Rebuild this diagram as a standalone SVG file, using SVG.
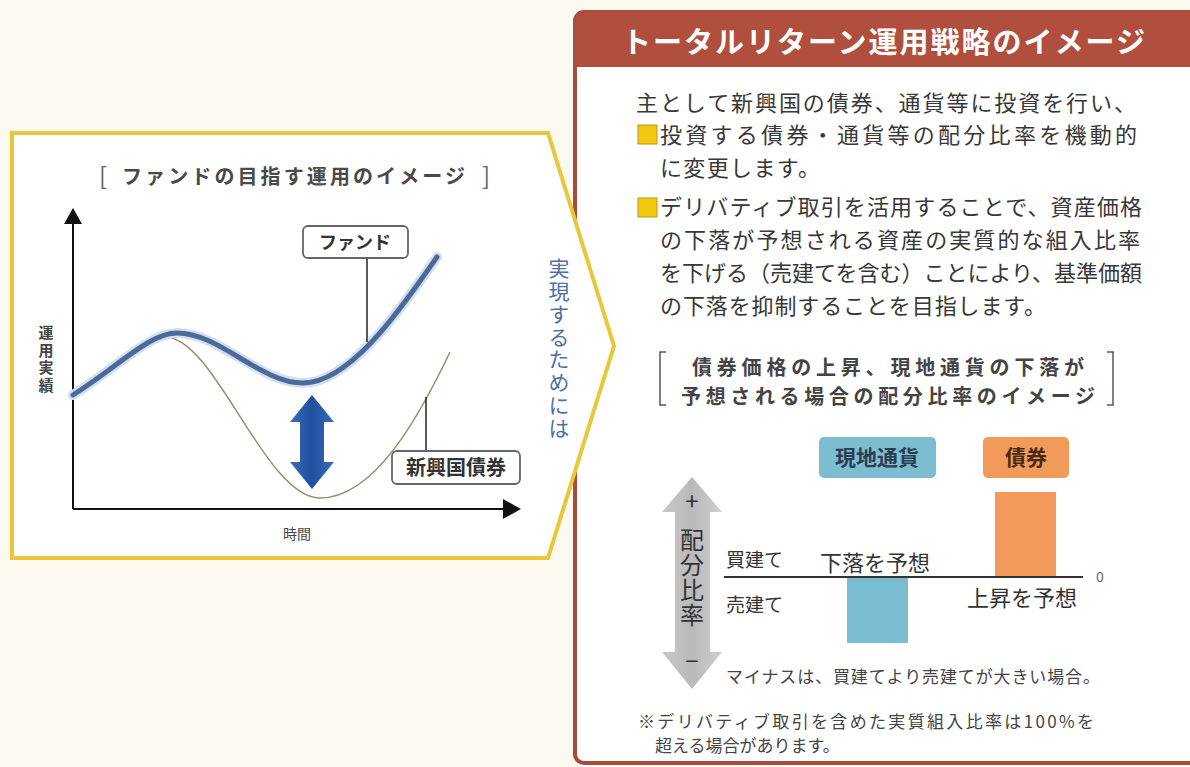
<svg xmlns="http://www.w3.org/2000/svg" width="1190" height="767" viewBox="0 0 1190 767">
<style>
text{font-family:"Noto Sans CJK JP","Noto Sans",sans-serif;}
.body{font-size:22px;fill:#383838;}
.vt{writing-mode:vertical-rl;}
.bar-t{font-size:22px;fill:#333;}
</style>
<defs>
<linearGradient id="gray" x1="0" y1="0" x2="1" y2="0">
<stop offset="0" stop-color="#c9c9c9"/><stop offset="0.5" stop-color="#b9b9b9"/><stop offset="1" stop-color="#cfcfcf"/>
</linearGradient>
<linearGradient id="blue" x1="0" y1="0" x2="1" y2="0">
<stop offset="0" stop-color="#3a6cb8"/><stop offset="0.5" stop-color="#1f4f9e"/><stop offset="1" stop-color="#3a6cb8"/>
</linearGradient>
</defs>
<rect width="1190" height="767" fill="#fcf9f1"/>

<g id="right-panel">
<rect x="575" y="12" width="640" height="751" rx="9" fill="#ffffff" stroke="#a84b3b" stroke-width="4"/>
<path d="M575,67 V21 Q575,12 584,12 H1190 V67 Z" fill="#b04f3d"/>
<text x="622" y="53" font-size="29" font-weight="bold" fill="#ffffff" textLength="523" lengthAdjust="spacing">トータルリターン運用戦略のイメージ</text>
</g>

<g id="left-panel">
<polygon points="12,133 548,133 614,346 548,558 12,558" fill="#ffffff" stroke="#e8c83a" stroke-width="4" stroke-linejoin="miter"/>
<text x="99" y="185" font-size="24" fill="#666" font-family="Liberation Sans">[</text>
<text x="122" y="184" font-size="20" font-weight="bold" fill="#4a4a4a" textLength="343" lengthAdjust="spacing">ファンドの目指す運用のイメージ</text>
<text x="482" y="185" font-size="24" fill="#666" font-family="Liberation Sans">]</text>
</g>

<g id="axes">
<line x1="73" y1="220" x2="73" y2="509" stroke="#111" stroke-width="2"/>
<polygon points="73,208 64,224 82,224" fill="#111"/>
<line x1="73" y1="509" x2="506" y2="509" stroke="#111" stroke-width="2"/>
<polygon points="521,509 503,499 503,519" fill="#111"/>
<text class="vt" x="46" y="325" font-size="15" font-weight="bold" fill="#444" letter-spacing="2.5">運用実績</text>
<text x="297" y="539" font-size="14" fill="#444" text-anchor="middle">時間</text>
</g>

<g id="curves">
<path d="M73,397 C115,370 140,337 165,337 C215,337 265,498 320,498 C375,498 420,415 450,352" fill="none" stroke="#9a8a70" stroke-width="1.5"/>
<path d="M73,395 C120,365 150,333 177,333 C220,333 260,383 303,383 C350,383 400,310 437,257" fill="none" stroke="#d3deef" stroke-width="10" stroke-linecap="round"/>
<path d="M73,395 C120,365 150,333 177,333 C220,333 260,383 303,383 C350,383 400,310 437,257" fill="none" stroke="#4b6a99" stroke-width="5" stroke-linecap="round"/>
<polygon points="312,395 334,422 324,422 324,462 334,462 312,489 290,462 300,462 300,422 290,422" fill="url(#blue)"/>
</g>

<g id="connectors">
<line x1="367" y1="258" x2="367" y2="342" stroke="#222" stroke-width="1.5"/>
<line x1="426" y1="397" x2="426" y2="450" stroke="#222" stroke-width="1.5"/>
</g>

<g id="fund-label">
<rect x="303" y="226" width="105" height="32" rx="5" fill="#ffffff" stroke="#666" stroke-width="1.8"/>
<text x="355" y="249" font-size="18" font-weight="bold" fill="#333" text-anchor="middle">ファンド</text>
</g>

<g id="bond-label">
<rect x="392" y="451" width="128" height="33" rx="5" fill="#ffffff" stroke="#666" stroke-width="1.8"/>
<text x="456" y="475" font-size="20" font-weight="bold" fill="#333" text-anchor="middle">新興国債券</text>
</g>

<g id="realize-text">
<text class="vt" x="559" y="258" font-size="21" fill="#4f6fa5" letter-spacing="1.75">実現するためには</text>
</g>

<g id="body-text">
<text class="body" x="636" y="111" textLength="500" lengthAdjust="spacing">主として新興国の債券、通貨等に投資を行い、</text>
<rect x="638" y="125" width="19" height="19" fill="#f2c811" stroke="#b89a1a" stroke-width="1"/>
<text class="body" x="660" y="143" textLength="477" lengthAdjust="spacing">投資する債券・通貨等の配分比率を機動的</text>
<text class="body" x="660" y="176" textLength="160" lengthAdjust="spacing">に変更します。</text>
<rect x="638" y="198" width="19" height="19" fill="#f2c811" stroke="#b89a1a" stroke-width="1"/>
<text class="body" x="660" y="215" textLength="482" lengthAdjust="spacing">デリバティブ取引を活用することで、資産価格</text>
<text class="body" x="660" y="248" textLength="480" lengthAdjust="spacing">の下落が予想される資産の実質的な組入比率</text>
<text class="body" x="660" y="281" textLength="482" lengthAdjust="spacing">を下げる（売建てを含む）ことにより、基準価額</text>
<text class="body" x="660" y="314" textLength="386" lengthAdjust="spacing">の下落を抑制することを目指します。</text>
</g>

<g id="chart-title">
<polyline points="666,352 660,352 660,405 666,405" fill="none" stroke="#555" stroke-width="1.5"/>
<polyline points="1107,352 1113,352 1113,405 1107,405" fill="none" stroke="#555" stroke-width="1.5"/>
<text x="888" y="375" font-size="20" font-weight="bold" fill="#444" text-anchor="middle" textLength="392" lengthAdjust="spacing">債券価格の上昇、現地通貨の下落が</text>
<text x="888" y="404" font-size="20" font-weight="bold" fill="#444" text-anchor="middle" textLength="414" lengthAdjust="spacing">予想される場合の配分比率のイメージ</text>
</g>

<g id="currency-label">
<rect x="819" y="437" width="117" height="41" rx="5" fill="#7dbdd0"/>
<text x="877" y="465" font-size="21" font-weight="bold" fill="#2d3e52" text-anchor="middle">現地通貨</text>
</g>
<g id="bond-legend">
<rect x="983" y="437" width="86" height="41" rx="5" fill="#f29a5a"/>
<text x="1026" y="465" font-size="21" font-weight="bold" fill="#4a2a16" text-anchor="middle">債券</text>
</g>

<g id="ratio-arrow">
<polygon points="692,477 722,512 710,512 710,652 722,652 692,689 662,652 675,652 675,512 662,512" fill="url(#gray)"/>
<text x="692" y="510" font-size="24" fill="#333" text-anchor="middle" font-family="Liberation Sans">+</text>
<text class="vt" x="692" y="528" font-size="24" fill="#333" letter-spacing="1">配分比率</text>
<text x="692" y="670" font-size="24" fill="#333" text-anchor="middle" font-family="Liberation Sans">−</text>
</g>

<g id="bars">
<rect x="995" y="492" width="61" height="85" fill="#f29a5a"/>
<rect x="847" y="578" width="61" height="65" fill="#7abcd0"/>
<line x1="724" y1="577" x2="1083" y2="577" stroke="#333" stroke-width="2"/>
<text x="1096" y="582" font-size="14" fill="#666" font-family="Liberation Sans">0</text>
<text x="726" y="567" font-size="19" fill="#333">買建て</text>
<text x="726" y="612" font-size="19" fill="#333">売建て</text>
<text class="bar-t" x="820" y="571">下落を予想</text>
<text class="bar-t" x="967" y="606">上昇を予想</text>
</g>

<g id="notes">
<text x="726" y="683" font-size="17" fill="#444" textLength="374" lengthAdjust="spacing">マイナスは、買建てより売建てが大きい場合。</text>
<text x="638" y="728" font-size="17" fill="#444" textLength="456" lengthAdjust="spacing">※デリバティブ取引を含めた実質組入比率は100%を</text>
<text x="655" y="752" font-size="17" fill="#444">超える場合があります。</text>
</g>
</svg>
